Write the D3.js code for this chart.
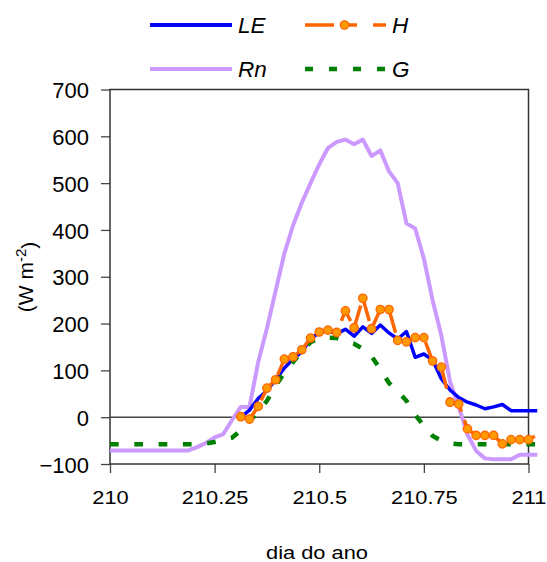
<!DOCTYPE html>
<html>
<head>
<meta charset="utf-8">
<script src="https://cdn.jsdelivr.net/npm/d3@7"></script>
<style>
    body { margin: 0; background: #fff; }
    svg { display: block; font-family: "Liberation Sans", Arial, sans-serif; }
</style>
</head>
<body>
<div id="chart"></div>
<script>
// half-hourly steps of day 210
const days = d3.range(50).map(i => 210 + i / 48);

const rn = [-71, -71, -71, -71, -71, -71, -71, -71, -71, -71,
    -64, -55, -43, -36, -6, 22, 22, 118, 190, 270,
    350, 410, 458, 500, 540, 575, 588, 593, 583, 593,
    558, 570, 525, 500, 414, 403, 339, 250, 175, 76,
    22, -37, -72, -88, -90, -90, -90, -80, -80, -80];

const le = [null, null, null, null, null, null, null, null, null, null,
    null, null, null, null, null, 0, 15, 40, 57, 80,
    105, 124, 140, 167, 181, 185, 178, 188, 173, 193,
    179, 197, 180, 167, 183, 128, 135, 122, 82, 58,
    42, 32, 26, 18, 22, 27, 14, 14, 14, 14];

const h = [null, null, null, null, null, null, null, null, null, null,
    null, null, null, null, null, 1, -4, 23, 62, 80,
    124, 129, 144, 169, 182, 186, 181, 227, 191, 254,
    189, 230, 230, 164, 161, 170, 170, 120, 107, 32,
    28, -25, -39, -39, -39, -57, -48, -48, -48, -38];

const g = [-58, -58, -58, -58, -58, -58, -58, -58, -58, -58,
    -58, -56, -53, -48, -44, -28, -9, 12, 35, 67,
    95, 118, 140, 160, 170, 170, 169, 163, 157, 146,
    130, 103, 73, 55, 35, 5, -18, -40, -50, -56,
    -58, -58, -58, -58, -58, -58, -58, -58, -58, -58];

const xTicks = [210, 210.25, 210.5, 210.75, 211];
const yTicks = [-100, 0, 100, 200, 300, 400, 500, 600, 700];

const width = 547, height = 562;
const svg = d3.select("#chart")
    .append("svg")
    .attr("width", width)
    .attr("height", height);

const x = d3.scaleLinear().domain([210, 211]).range([110, 528.5]);
const y = d3.scaleLinear().domain([-100, 700]).range([464, 89.5]);

// axes
const yAxis = svg.append("g")
    .attr("transform", "translate(110,0)")
    .call(d3.axisLeft(y).tickValues(yTicks).tickSize(9).tickPadding(12).tickFormat(d3.format("d")));
yAxis.select(".domain").remove();
yAxis.selectAll("line").attr("stroke", "#444").attr("stroke-width", 1.3);
yAxis.selectAll("text")
    .attr("dy", "0.37em")
    .attr("fill", "#000")
    .style("font-size", "22px");

const xAxis = svg.append("g")
    .attr("transform", "translate(0,464)")
    .call(d3.axisBottom(x).tickValues(xTicks).tickSize(9).tickFormat(d => String(d)));
xAxis.select(".domain").remove();
xAxis.selectAll("line").attr("stroke", "#444").attr("stroke-width", 1.3);
xAxis.selectAll("text")
    .attr("y", 40)
    .attr("dy", 0)
    .attr("fill", "#000")
    .attr("transform", "scale(1.18,1)")
    .style("font-size", "18.5px");

// plot frame and zero line
svg.append("rect")
    .attr("x", x(210))
    .attr("y", y(700))
    .attr("width", x(211) - x(210))
    .attr("height", y(-100) - y(700))
    .attr("fill", "none")
    .attr("stroke", "#333")
    .attr("stroke-width", 1.5);

svg.append("line")
    .attr("x1", x(210)).attr("x2", x(211))
    .attr("y1", y(0)).attr("y2", y(0))
    .attr("stroke", "#444")
    .attr("stroke-width", 1.4);

// axis titles
svg.append("text")
    .attr("x", 317)
    .attr("y", 559)
    .attr("text-anchor", "middle")
    .attr("transform", "translate(317,0) scale(1.18,1) translate(-317,0)")
    .style("font-size", "18.5px")
    .text("dia do ano");

const yTitle = svg.append("text")
    .attr("transform", "translate(33,277) rotate(-90)")
    .attr("text-anchor", "middle")
    .style("font-size", "21px");
yTitle.append("tspan").text("(W m");
yTitle.append("tspan").attr("dy", "-0.5em").style("font-size", "15px").text("-2");
yTitle.append("tspan").attr("dy", "0.5em").text(")");

// series
const line = values => d3.line()
    .defined((d, i) => values[i] != null)
    .x((d, i) => x(days[i]))
    .y((d, i) => y(values[i]))(values);

svg.append("path")
    .attr("d", line(rn))
    .attr("fill", "none")
    .attr("stroke", "#CC99FF")
    .attr("stroke-width", 4)
    .attr("stroke-linejoin", "round");

svg.append("path")
    .attr("d", line(le))
    .attr("fill", "none")
    .attr("stroke", "#0000FF")
    .attr("stroke-width", 3.5)
    .attr("stroke-linejoin", "round");

svg.append("path")
    .attr("d", line(g))
    .attr("fill", "none")
    .attr("stroke", "#008000")
    .attr("stroke-width", 4.5)
    .attr("stroke-dasharray", "8.7,15.6");

svg.append("path")
    .attr("d", line(h))
    .attr("fill", "none")
    .attr("stroke", "#FF6600")
    .attr("stroke-width", 3.5)
    .attr("stroke-dasharray", "22,9");

svg.selectAll("circle.h")
    .data(h.map((v, i) => ({ t: days[i], v: v })).filter(d => d.v != null && d.t <= 211))
    .enter().append("circle")
    .attr("class", "h")
    .attr("cx", d => x(d.t))
    .attr("cy", d => y(d.v))
    .attr("r", 4.2)
    .attr("fill", "#FF9900")
    .attr("stroke", "#FF6600")
    .attr("stroke-width", 1.3);

// legend
const legend = svg.append("g");
legend.append("line").attr("x1", 150).attr("x2", 232).attr("y1", 25).attr("y2", 25)
    .attr("stroke", "#0000FF").attr("stroke-width", 4);
legend.append("line").attr("x1", 150).attr("x2", 232).attr("y1", 69).attr("y2", 69)
    .attr("stroke", "#CC99FF").attr("stroke-width", 4);
legend.append("line").attr("x1", 305).attr("x2", 386).attr("y1", 25).attr("y2", 25)
    .attr("stroke", "#FF6600").attr("stroke-width", 3.5)
    .attr("stroke-dasharray", "29,10,13,16,14");
legend.append("circle").attr("cx", 344.5).attr("cy", 25).attr("r", 4.2)
    .attr("fill", "#FF9900").attr("stroke", "#FF6600").attr("stroke-width", 1.3);
legend.append("line").attr("x1", 305).attr("x2", 386).attr("y1", 69).attr("y2", 69)
    .attr("stroke", "#008000").attr("stroke-width", 4.5)
    .attr("stroke-dasharray", "8,16");

const labels = [["LE", 238, 33], ["H", 392, 33], ["Rn", 238, 77], ["G", 392, 77]];
legend.selectAll("text")
    .data(labels)
    .enter().append("text")
    .attr("x", d => d[1])
    .attr("y", d => d[2])
    .style("font-size", "22.5px")
    .style("font-style", "italic")
    .text(d => d[0]);
</script>
</body>
</html>
